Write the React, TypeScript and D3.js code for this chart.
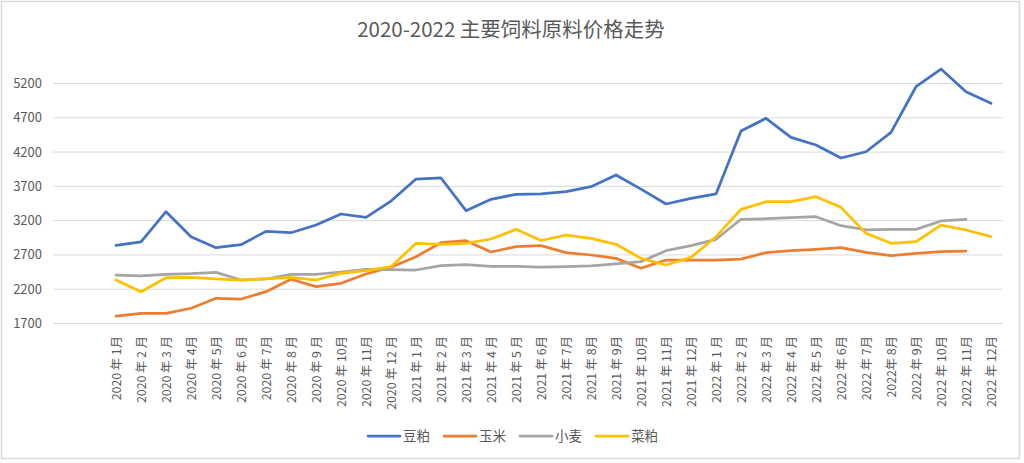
import React from "react";
import * as d3 from "d3";

const categories: string[] = [
  "2020 年 1月", "2020 年 2 月", "2020 年 3 月", "2020 年 4月", "2020 年 5月", "2020 年 6 月",
  "2020 年 7月", "2020 年 8 月", "2020 年 9 月", "2020 年 10月", "2020 年 11月", "2020 年 12 月",
  "2021 年 1 月", "2021 年 2 月", "2021 年 3 月", "2021 年 4 月", "2021 年 5 月", "2021 年 6月",
  "2021 年 7月", "2021 年 8月", "2021 年 9月", "2021 年 10月", "2021 年 11月", "2021 年 12月",
  "2022 年 1 月", "2022 年 2 月", "2022 年 3 月", "2022 年 4 月", "2022 年 5 月", "2022 年 6月",
  "2022 年 7月", "2022年 8月", "2022 年 9月", "2022 年 10月", "2022 年 11月", "2022 年 12月",
];

const soybeanMeal: (number | null)[] = [
  2840, 2890, 3330, 2966, 2805, 2849, 3044, 3024, 3136, 3297, 3249, 3486,
  3807, 3822, 3345, 3511, 3584, 3592, 3622, 3695, 3866, 3660, 3443, 3525,
  3589, 4507, 4692, 4415, 4303, 4113, 4205, 4488, 5153, 5411, 5081, 4911,
];
const corn: (number | null)[] = [
  1809, 1848, 1848, 1922, 2067, 2057, 2164, 2345, 2237, 2286, 2422, 2520,
  2674, 2878, 2908, 2743, 2820, 2835, 2733, 2699, 2650, 2505, 2626, 2626,
  2626, 2640, 2733, 2762, 2782, 2806, 2738, 2689, 2723, 2747, 2757, null,
];
const wheat: (number | null)[] = [
  2407, 2393, 2417, 2427, 2446, 2334, 2349, 2417, 2417, 2451, 2490, 2485,
  2480, 2543, 2557, 2534, 2534, 2522, 2529, 2539, 2568, 2602, 2762, 2835,
  2928, 3220, 3228, 3243, 3257, 3126, 3064, 3073, 3073, 3195, 3220, null,
];
const rapeseedMeal: (number | null)[] = [
  2334, 2164, 2368, 2373, 2349, 2334, 2349, 2373, 2334, 2432, 2470, 2528,
  2869, 2855, 2869, 2932, 3073, 2910, 2990, 2942, 2855, 2650, 2553, 2665,
  2966, 3365, 3476, 3476, 3549, 3394, 3015, 2869, 2893, 3136, 3064, 2966,
];

const yTicks: number[] = [1700, 2200, 2700, 3200, 3700, 4200, 4700, 5200];
const seriesNames: string[] = ["豆粕", "玉米", "小麦", "菜粕"];
const seriesColors: string[] = ["#4472C4", "#ED7D31", "#A5A5A5", "#FFC000"];
const title = "2020-2022 主要饲料原料价格走势";

const W = 1024;
const H = 463;
const FONT = "'Noto Sans CJK SC', 'Noto Sans', sans-serif";

export default function App() {
  const allSeries = [soybeanMeal, corn, wheat, rapeseedMeal];
  const x = d3.scaleBand<string>().domain(categories).range([103.5, 1003.5]);
  const cx = (c: string) => (x(c) as number) + x.bandwidth() / 2;
  const y = d3.scaleLinear().domain([1700, 5200]).range([323.5, 83.5]);
  const gridX0 = 53;
  const gridX1 = 1003;

  const line = d3
    .line<number | null>()
    .defined((d) => d != null)
    .x((_, i) => cx(categories[i]))
    .y((d) => y(d as number));

  const legendStart = 368;
  const legendStep = 76;

  return (
    <div style={{ position: "fixed", left: 0, top: 0 }}>
      <svg width={W} height={H} style={{ display: "block", background: "#fff" }}>
        <rect x={1.5} y={1.5} width={1018} height={457} fill="#fff" stroke="#d9d9d9" strokeWidth={1.5} />
        <text x={511} y={37} textAnchor="middle" fontFamily={FONT} fontSize={20.5} fill="#595959">
          {title}
        </text>
        {yTicks.map((t) => (
          <g key={t}>
            <line x1={gridX0} x2={gridX1} y1={y(t)} y2={y(t)} stroke="#d9d9d9" strokeWidth={1} />
            <text x={42} y={y(t)} dy="0.35em" textAnchor="end" fontFamily={FONT} fontSize={13} fill="#595959">
              {t}
            </text>
          </g>
        ))}
        {categories.map((c) => (
          <text
            key={c}
            transform={`translate(${cx(c) + 4.5},336) rotate(-90)`}
            textAnchor="end"
            fontFamily={FONT}
            fontSize={12.3}
            fill="#595959"
          >
            {c}
          </text>
        ))}
        {allSeries.map((s, k) => (
          <path
            key={seriesNames[k]}
            d={line(s) || ""}
            fill="none"
            stroke={seriesColors[k]}
            strokeWidth={2.75}
            strokeLinejoin="round"
            strokeLinecap="round"
          />
        ))}
        {seriesNames.map((n, k) => {
          const lx = legendStart + k * legendStep;
          return (
            <g key={n}>
              <line x1={lx} x2={lx + 32} y1={436} y2={436} stroke={seriesColors[k]} strokeWidth={2.75} strokeLinecap="round" />
              <text x={lx + 35} y={436} dy="0.35em" fontFamily={FONT} fontSize={13.5} fill="#595959">
                {n}
              </text>
            </g>
          );
        })}
      </svg>
    </div>
  );
}
